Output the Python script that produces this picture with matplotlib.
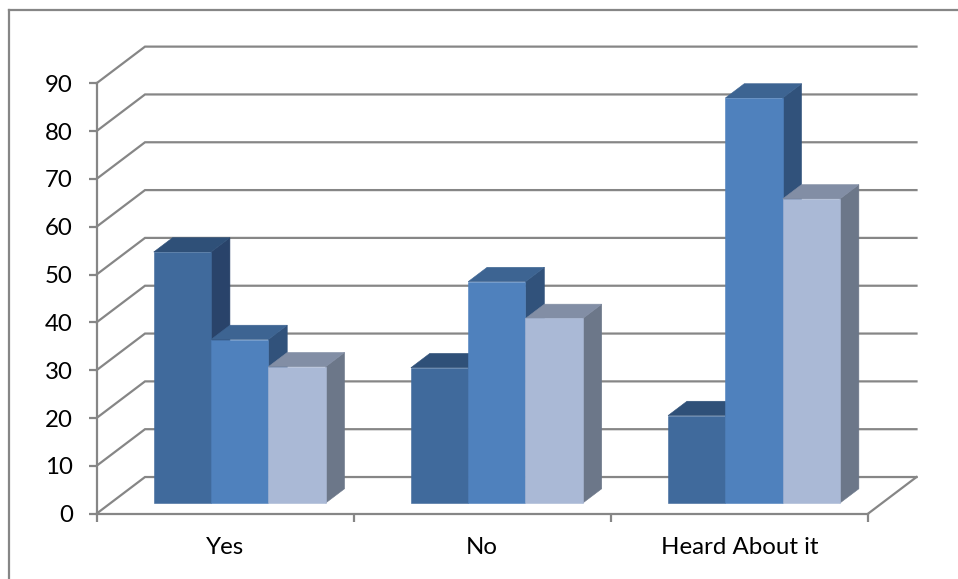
import matplotlib
matplotlib.use('Agg')
import matplotlib.pyplot as plt
from matplotlib.patches import Polygon
from matplotlib.lines import Line2D

plt.rcParams['font.family'] = ['Lato', 'DejaVu Sans']

categories = ['Yes', 'No', 'Heard About it']
series_a = [52.5, 28.3, 18.3]
series_b = [34.2, 46.3, 84.7]
series_c = [28.5, 38.6, 63.6]
y_ticks = [0, 10, 20, 30, 40, 50, 60, 70, 80, 90]

W, H = 958, 579
LINE = '#868686'

# (front, side, top) for each series
colors_a = ('#406A9C', '#29436A', '#2F5078')
colors_b = ('#4F81BD', '#31527B', '#3D6492')
colors_c = ('#AAB9D6', '#6C7789', '#828EA5')

# oblique depth of the chart box, in data units
wall_dx = 0.1886
wall_dy = 7.67
# bars sit part way into the box
bar_near = 0.29
bar_deep = 0.39
bar_w = 0.2228

fig = plt.figure(figsize=(W / 100, H / 100), dpi=100)
ax = fig.add_axes([96.5 / W, 1 - 513.7 / H, (868 - 96.5) / W, (513.7 - 83.3) / H])
ax.set_xlim(0, 3)
ax.set_ylim(0, 90)
ax.patch.set_visible(False)

for s in ['top', 'right']:
    ax.spines[s].set_visible(False)
for s in ['left', 'bottom']:
    ax.spines[s].set_color(LINE)
    ax.spines[s].set_linewidth(1.6)

ax.set_yticks(y_ticks)
ax.tick_params(axis='y', length=6, width=1.6, color=LINE, labelsize=17.3, pad=11, labelcolor='black')
ax.set_xticks(range(4))
ax.set_xticklabels([])
ax.tick_params(axis='x', length=6, width=1.6, color=LINE)
ax.set_xticks([0.5, 1.5, 2.5], minor=True)
ax.set_xticklabels(categories, minor=True)
ax.tick_params(axis='x', which='minor', length=0, labelsize=17.3, pad=17, labelcolor='black')

# gridlines on the floor-to-wall diagonal and along the back wall
for v in y_ticks:
    ax.plot([0, wall_dx, 3 + wall_dx], [v, v + wall_dy, v + wall_dy], color=LINE, lw=1.6,
            clip_on=False, zorder=1, solid_joinstyle='miter')
ax.plot([3, 3 + wall_dx], [0, wall_dy], color=LINE, lw=1.6, clip_on=False, zorder=1)


def draw_bar(x, val, cols, z):
    x0 = x + wall_dx * bar_near
    y0 = wall_dy * bar_near
    dx = wall_dx * bar_deep
    dy = wall_dy * bar_deep
    x1 = x0 + bar_w
    y1 = y0 + val
    side = [(x1, y0), (x1 + dx, y0 + dy), (x1 + dx, y1 + dy), (x1, y1)]
    top = [(x0, y1), (x1, y1), (x1 + dx, y1 + dy), (x0 + dx, y1 + dy)]
    front = [(x0, y0), (x1, y0), (x1, y1), (x0, y1)]
    for pts, c in zip((side, top, front), (cols[1], cols[2], cols[0])):
        ax.add_patch(Polygon(pts, closed=True, facecolor=c, edgecolor=c, lw=0.4,
                             clip_on=False, zorder=z))


start = 0.502 - 1.5 * bar_w
z = 3
for i in range(len(categories)):
    for j, (vals, cols) in enumerate(zip((series_a, series_b, series_c),
                                         (colors_a, colors_b, colors_c))):
        draw_bar(i + start + j * bar_w, vals[i], cols, z)
        z += 1

# frame of the chart area, only top and left fall inside the image
fig.add_artist(Line2D([9 / W, 9 / W], [0, 1 - 10 / H], color=LINE, lw=1.6))
fig.add_artist(Line2D([9 / W, 1], [1 - 10 / H, 1 - 10 / H], color=LINE, lw=1.6))

fig.savefig('out.png', dpi=100)
